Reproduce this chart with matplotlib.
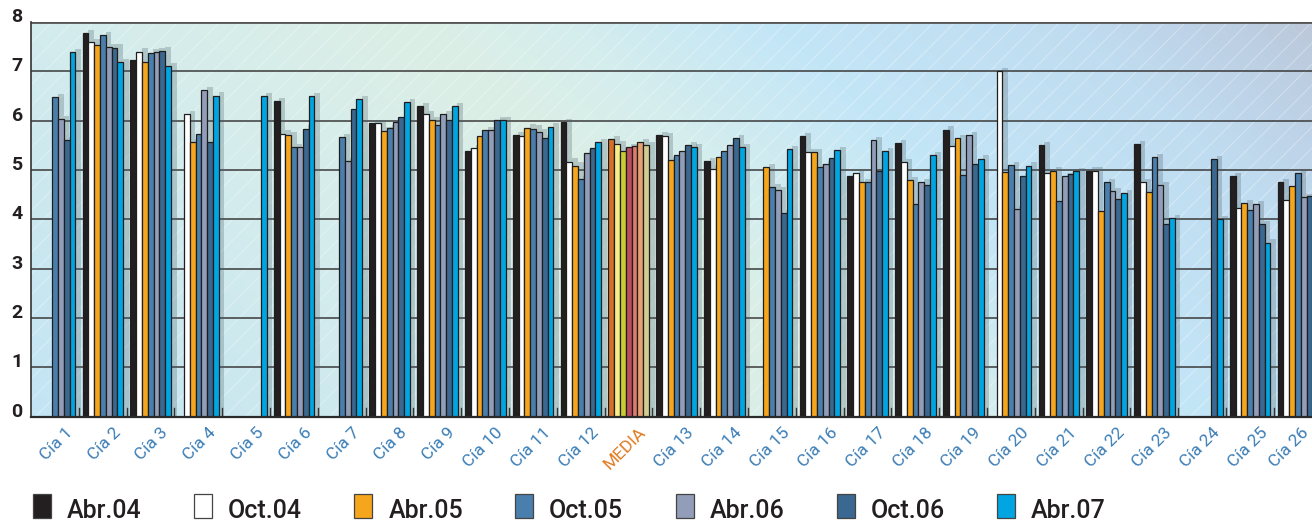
import numpy as np
import matplotlib
matplotlib.use("Agg")
import matplotlib.pyplot as plt
from matplotlib import font_manager
from matplotlib.colors import to_rgb
from matplotlib.patches import Rectangle
import matplotlib.transforms as mtransforms

nan = np.nan

categories = ["Cía 1", "Cía 2", "Cía 3", "Cía 4", "Cía 5", "Cía 6", "Cía 7", "Cía 8",
              "Cía 9", "Cía 10", "Cía 11", "Cía 12", "MEDIA", "Cía 13", "Cía 14",
              "Cía 15", "Cía 16", "Cía 17", "Cía 18", "Cía 19", "Cía 20", "Cía 21",
              "Cía 22", "Cía 23", "Cía 24", "Cía 25", "Cía 26"]

series_names = ["Abr.04", "Oct.04", "Abr.05", "Oct.05", "Abr.06", "Oct.06", "Abr.07"]

abr04 = [nan, 7.77, 7.22, nan, nan, 6.39, nan, 5.95, 6.30, 5.38, 5.71, 5.97, 5.63,
         5.71, 5.18, nan, 5.69, 4.87, 5.55, 5.82, nan, 5.51, 4.99, 5.53, nan, 4.87, 4.76]
oct04 = [nan, 7.59, 7.40, 6.13, nan, 5.74, nan, 5.95, 6.13, 5.45, 5.68, 5.17, 5.53,
         5.68, 5.03, nan, 5.37, 4.94, 5.16, 5.48, 7.00, 4.94, 4.99, 4.76, nan, 4.22, 4.39]
abr05 = [nan, 7.53, 7.18, 5.56, nan, 5.71, nan, 5.80, 6.01, 5.68, 5.86, 5.09, 5.38,
         5.20, 5.27, 5.06, 5.37, 4.76, 4.80, 5.64, 4.95, 4.99, 4.16, 4.56, nan, 4.33, 4.68]
oct05 = [6.47, 7.73, 7.38, 5.72, nan, 5.46, 5.66, 5.85, 5.91, 5.81, 5.84, 4.81, 5.47,
         5.31, 5.39, 4.65, 5.06, 4.75, 4.31, 4.89, 5.10, 4.37, 4.75, 5.26, nan, 4.19, 4.93]
abr06 = [6.03, 7.49, 7.40, 6.62, nan, 5.47, 5.18, 5.97, 6.14, 5.81, 5.77, 5.34, 5.49,
         5.39, 5.51, 4.60, 5.12, 5.60, 4.75, 5.70, 4.20, 4.88, 4.58, 4.70, nan, 4.31, 4.45]
oct06 = [5.61, 7.48, 7.42, 5.57, nan, 5.84, 6.24, 6.07, 6.01, 6.01, 5.64, 5.45, 5.57,
         5.51, 5.64, 4.12, 5.24, 4.99, 4.69, 5.12, 4.87, 4.92, 4.41, 3.91, 5.22, 3.91, 4.48]
abr07 = [7.39, 7.18, 7.10, 6.51, 6.50, 6.50, 6.43, 6.37, 6.30, 6.01, 5.88, 5.57, 5.51,
         5.47, 5.46, 5.43, 5.41, 5.38, 5.31, 5.23, 5.09, 4.98, 4.53, 4.03, 4.00, 3.53, nan]

series_values = [abr04, oct04, abr05, oct05, abr06, oct06, abr07]
series_colors = ["#231f20", "#ffffff", "#f5a61d", "#4a7fad", "#929db9", "#3a6890", "#00a5e2"]
media_colors = ["#d4702a", "#f8ee88", "#c8cc30", "#bc4c60", "#e07a6a", "#e6a172", "#d2cc90"]
media_label = "MEDIA"

y_ticks = [0, 1, 2, 3, 4, 5, 6, 7, 8]

# ---- fonts -------------------------------------------------------------
available = {f.name for f in font_manager.fontManager.ttflist}
narrow = next((f for f in ["Liberation Sans Narrow", "DejaVu Sans Condensed", "Roboto"]
               if f in available), "DejaVu Sans")

# ---- figure geometry (pixels) ------------------------------------------
W, H = 1312, 521
fig = plt.figure(figsize=(W / 100, H / 100), dpi=100)
ax_left, ax_top, ax_bottom = 31, 22, 416.7
group_px = 47.8
ax = fig.add_axes([ax_left / W, (H - ax_bottom) / H, (W - ax_left) / W, (ax_bottom - ax_top) / H])
xmax = (W - ax_left) / group_px
ax.set_xlim(0, xmax)
ax.set_ylim(0, 8)
px_x = 1 / group_px                    # data units per pixel, x
px_y = 8 / (ax_bottom - ax_top)        # data units per pixel, y

# ---- diagonal gradient background --------------------------------------
nx, ny = 400, 160
xs = np.linspace(ax_left, W, nx)
ys = np.linspace(ax_top, ax_bottom, ny)
XX, YY = np.meshgrid(xs, ys)
U = XX + 1.09 * (YY - ax_top)
stops = [(0, "#c2e4f6"), (250, "#cbe8f0"), (500, "#d4ecec"), (850, "#dcefe6"),
         (1000, "#d4edee"), (1200, "#c3e6f7"), (1500, "#c0dcf0"), (1660, "#bdcfe3"),
         (1760, "#bcc7d9")]
su = np.array([s[0] for s in stops], float)
sc = np.array([to_rgb(s[1]) for s in stops])
img = np.zeros((ny, nx, 3))
for c in range(3):
    img[..., c] = np.interp(U, su, sc[:, c])
ax.imshow(img, extent=[0, xmax, 8, 0], aspect="auto", zorder=0, interpolation="bilinear")
ax.set_xlim(0, xmax)
ax.set_ylim(0, 8)

# faint white diagonal hatching
hx = (ax_bottom - ax_top) * px_x
for x0 in np.arange(-hx, xmax + 1, 21 * px_x):
    ax.plot([x0, x0 + hx], [0, 8], color="white", lw=0.7, alpha=0.35, zorder=0.5,
            solid_capstyle="butt")

# ---- grid ---------------------------------------------------------------
for v in y_ticks[1:-1]:
    ax.axhline(v, color="#3a3a3a", lw=1.1, zorder=1)
ax.axhline(8, color="#555555", lw=2.0, zorder=1)

# ---- bars with drop shadows ---------------------------------------------
n_groups = len(categories)
bar_w = 5.8 * px_x
offset = 3.8 * px_x
x_idx = np.arange(n_groups)
sh_dx, sh_dy = 5.5 * px_x, 3.2 * px_y
for j, (vals, col) in enumerate(zip(series_values, series_colors)):
    vals = np.asarray(vals, float)
    cols = [col] * n_groups
    cols[categories.index(media_label)] = media_colors[j]
    xpos = x_idx + offset + j * bar_w
    ax.bar(xpos + sh_dx, vals + sh_dy, width=bar_w, align="edge",
           color=(0.30, 0.38, 0.42, 0.28), lw=0, zorder=2)
    ax.bar(xpos, vals, width=bar_w, align="edge", color=cols,
           edgecolor="#1e1e1e", lw=0.9, zorder=3)

# group separator ticks
for k in range(1, n_groups):
    ax.plot([k, k], [0, 9 * px_y], color="#333333", lw=1.0, zorder=4)

# ---- axes styling -----------------------------------------------------
for s in ["top", "right"]:
    ax.spines[s].set_visible(False)
ax.spines["left"].set_color("#333333")
ax.spines["left"].set_linewidth(1.2)
ax.spines["bottom"].set_color("#2a2a2a")
ax.spines["bottom"].set_linewidth(1.6)
ax.spines["left"].set_zorder(5)
ax.spines["bottom"].set_zorder(5)

ax.set_yticks(y_ticks)
ax.set_yticklabels([str(v) for v in y_ticks], fontsize=14, fontweight="bold",
                   color="#231f20", family=["Roboto", "DejaVu Sans"])
ax.tick_params(axis="y", length=0, pad=6)
up = mtransforms.ScaledTranslation(0, 7 / 100, fig.dpi_scale_trans)
for lab in ax.get_yticklabels():
    lab.set_transform(lab.get_transform() + up)

ax.set_xticks([])
for i, name in enumerate(categories):
    color = "#e07a20" if name == media_label else "#3b7db6"
    # the last label sits at the right edge; nudge it so it stays inside
    dx = 10 if i < n_groups - 1 else 3
    shift = mtransforms.ScaledTranslation(dx / 100, -8 / 100, fig.dpi_scale_trans)
    ax.text(i + 0.5, 0, name, rotation=45, ha="right", va="top", rotation_mode="anchor",
            fontsize=12.5, color=color, family=[narrow, "DejaVu Sans"],
            transform=ax.transData + shift, clip_on=False)

# ---- legend row ---------------------------------------------------------
for j, (name, col) in enumerate(zip(series_names, series_colors)):
    x0 = 33 + j * 160.7
    fig.patches.append(Rectangle((x0 / W, (H - 518) / H), 18 / W, 24 / H,
                                 transform=fig.transFigure, facecolor=col,
                                 edgecolor="#444444", lw=0.9))
    fig.text((x0 + 34) / W, (H - 518) / H, name, fontsize=18, color="#231f20",
             fontweight="medium", family=[narrow, "DejaVu Sans"],
             ha="left", va="baseline")

fig.savefig("out.png", dpi=100)
